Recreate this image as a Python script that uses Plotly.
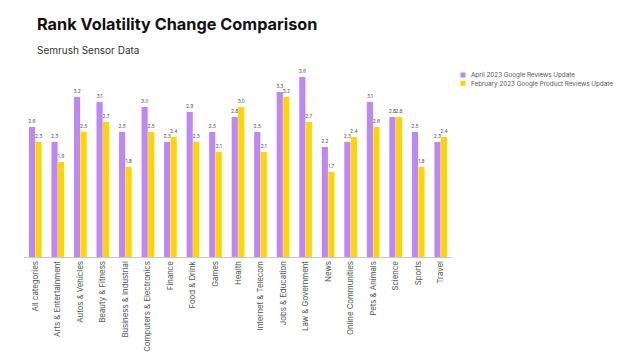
import plotly.graph_objects as go

categories = ["All categories", "Arts & Entertainment", "Autos & Vehicles", "Beauty & Fitness",
              "Business & Industrial", "Computers & Electronics", "Finance", "Food & Drink",
              "Games", "Health", "Internet & Telecom", "Jobs & Education", "Law & Government",
              "News", "Online Communities", "Pets & Animals", "Science", "Sports", "Travel"]
april_2023 = [2.6, 2.3, 3.2, 3.1, 2.5, 3.0, 2.3, 2.9, 2.5, 2.8, 2.5, 3.3, 3.6, 2.2, 2.3, 3.1, 2.8, 2.5, 2.3]
february_2023 = [2.3, 1.9, 2.5, 2.7, 1.8, 2.5, 2.4, 2.3, 2.1, 3.0, 2.1, 3.2, 2.7, 1.7, 2.4, 2.6, 2.8, 1.8, 2.4]

series_names = ["April 2023 Google Reviews Update", "February 2023 Google Product Reviews Update"]
colors = ["#BF87F5", "#FFD400"]

L, R, T, B = 24, 172, 62, 100
W, H = 624, 357
PW, PH = W - L - R, H - T - B


def px_x(x):
    return (x - L) / PW


def px_y(y):
    return (H - B - y) / PH


fig = go.Figure()
for name, vals, col in zip(series_names, [april_2023, february_2023], colors):
    fig.add_trace(go.Bar(
        x=categories, y=vals, name=name, marker=dict(color=col, line=dict(width=0)),
        text=[f"{v:.1f}" for v in vals], textposition="outside", constraintext="none",
        textfont=dict(size=4.9, color="#555555", family="Inter"), cliponaxis=False,
        showlegend=False,
    ))

annotations = [
    dict(text="<b>Rank Volatility Change Comparison</b>",
         x=px_x(35), y=px_y(24), xref="paper", yref="paper",
         showarrow=False, xanchor="left", yanchor="middle",
         font=dict(size=16.3, color="#111111", family="Inter")),
    dict(text="Semrush Sensor Data",
         x=px_x(35), y=px_y(50), xref="paper", yref="paper",
         showarrow=False, xanchor="left", yanchor="middle",
         font=dict(size=10, color="#333333", family="Inter")),
]
shapes = []
# compact legend (square swatch + label)
for i, (name, col) in enumerate(zip(series_names, colors)):
    yc = 75 + i * 8.5
    shapes.append(dict(type="rect", xref="paper", yref="paper",
                       x0=px_x(460.5), x1=px_x(465.5), y0=px_y(yc + 2.5), y1=px_y(yc - 2.5),
                       fillcolor=col, line=dict(width=0)))
    annotations.append(dict(text=name, x=px_x(469), y=px_y(yc), xref="paper", yref="paper",
                            showarrow=False, xanchor="left", yanchor="middle",
                            font=dict(size=6.3, color="#555555", family="Inter")))

fig.update_layout(
    width=W, height=H,
    margin=dict(l=L, r=R, t=T, b=B, autoexpand=False),
    paper_bgcolor="white", plot_bgcolor="white",
    barmode="group", bargap=0.42, bargroupgap=0.06,
    font=dict(family="Inter", color="#444444"),
    showlegend=False,
    annotations=annotations,
    shapes=shapes,
)

fig.update_xaxes(tickangle=-90, tickfont=dict(size=7.8, color="#555555", family="Inter"),
                 showline=True, linecolor="#c8c8c8", linewidth=1, ticks="", showgrid=False,
                 automargin=False)
fig.update_yaxes(range=[0, 3.9], visible=False, showgrid=False, automargin=False)

fig.write_html("out.html", config={"displayModeBar": False},
               post_script="document.body.style.margin='0';")
